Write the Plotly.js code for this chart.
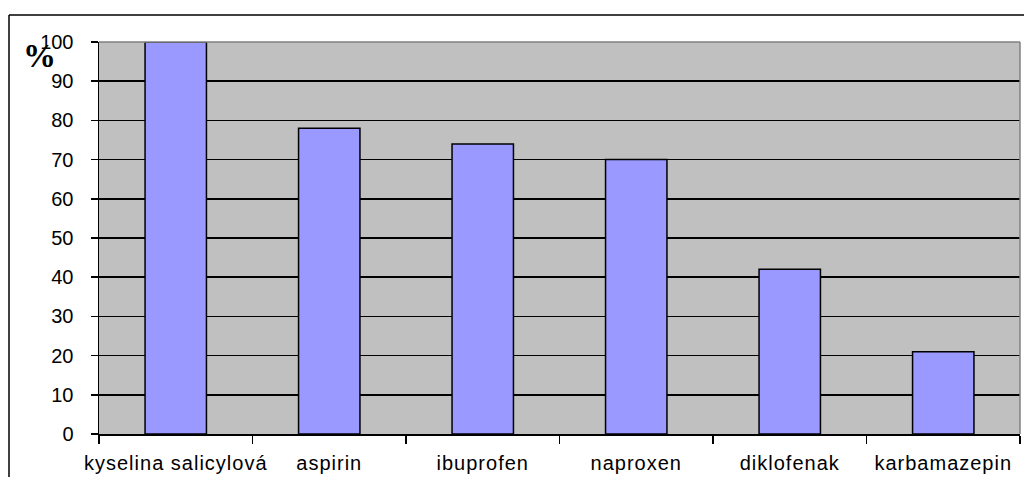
<!DOCTYPE html>
<html><head><meta charset="utf-8">
<script src="https://cdn.plot.ly/plotly-3.0.1.min.js"></script>
<style>html,body{margin:0;padding:0;background:#fff;}#chart{width:1024px;height:477px;}
.xtick text{letter-spacing:1px;}</style>
</head><body><div id="chart"></div>
<script>
const categories = ["kyselina salicylová", "aspirin", "ibuprofen", "naproxen", "diklofenak", "karbamazepin"];
const values = [100, 78, 74, 70, 42, 21];
const yTicks = [0, 10, 20, 30, 40, 50, 60, 70, 80, 90, 100];

const trace = {
  type: 'bar', x: categories, y: values,
  marker: {color: '#9999FF', line: {color: '#000000', width: 1.5}},
  width: 0.4, hoverinfo: 'skip'
};
const font = {family: 'Liberation Sans, Arial, sans-serif', size: 20, color: '#000'};
const layout = {
  width: 1024, height: 477,
  margin: {l: 99, r: 4, t: 42, b: 43, pad: 0},
  paper_bgcolor: '#ffffff', plot_bgcolor: '#C0C0C0',
  showlegend: false, font: font,
  xaxis: {
    type: 'category', tickson: 'boundaries', ticks: 'outside', ticklen: 8, tickwidth: 1.5, tickcolor: '#000',
    showline: true, linecolor: '#000', linewidth: 1.5, showgrid: false, zeroline: false,
    tickangle: 0, automargin: false,
    tickfont: font, ticklabelstandoff: 10, fixedrange: true
  },
  yaxis: {
    range: [0, 100], tickvals: yTicks, ticktext: yTicks.map(String),
    ticks: 'outside', ticklen: 7, tickwidth: 1.5, tickcolor: '#000',
    showline: true, linecolor: '#000', linewidth: 1.5, automargin: false,
    showgrid: true, gridcolor: '#000', gridwidth: 1.5, zeroline: false,
    tickfont: font, ticklabelstandoff: 13, fixedrange: true
  },
  shapes: [
    {type: 'line', xref: 'paper', yref: 'paper', x0: 0, x1: 1.0, y0: 1, y1: 1, line: {color: '#808080', width: 1.5}, layer: 'above'},
    {type: 'line', xref: 'paper', yref: 'paper', x0: 1, x1: 1, y0: 0, y1: 1, line: {color: '#808080', width: 1.5}, layer: 'above'},
    {type: 'line', xref: 'paper', yref: 'paper', x0: (9-99)/921, x1: (1030-99)/921, y0: (434-15)/392, y1: (434-15)/392, line: {color: '#000', width: 1.5}},
    {type: 'line', xref: 'paper', yref: 'paper', x0: (9-99)/921, x1: (9-99)/921, y0: (434-15)/392, y1: (434-480)/392, line: {color: '#000', width: 1.5}}
  ],
  annotations: [
    {text: '<b>%</b>', xref: 'paper', yref: 'paper', x: (39-99)/921, y: (434-56)/392, xanchor: 'center', yanchor: 'middle', showarrow: false,
     font: {family: 'Liberation Serif, Times New Roman, serif', size: 33, color: '#000'}}
  ]
};
Plotly.newPlot('chart', [trace], layout, {displayModeBar: false, staticPlot: true});
</script></body></html>
